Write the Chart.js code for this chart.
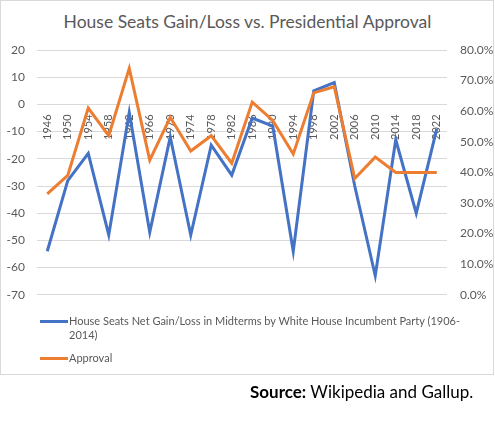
<!DOCTYPE html>
<html>
<head>
<meta charset="utf-8">
<script src="https://cdn.jsdelivr.net/npm/chart.js@4"></script>
<style>
  body { margin: 0; background: #fff; font-family: Lato, "Open Sans", sans-serif; overflow: hidden; }
  #frame { position: absolute; left: 0; top: 0; width: 492px; height: 373px; border: 1px solid #d9d9d9; }
  #wrap { position: absolute; left: 0; top: 0; width: 497px; height: 315px; }
  #title { position: absolute; left: 0; top: 11px; width: 495px; text-align: center; font-size: 17.5px; color: #595959; }
  #legend { position: absolute; left: 40px; top: 314px; font-size: 11px; color: #595959; }
  .item { position: relative; padding-left: 29px; width: 395px; line-height: 14px; margin-bottom: 9px; }
  .swatch { position: absolute; left: 0; top: 6px; width: 28px; height: 3px; }
  #source { position: absolute; left: 250px; top: 381px; font-size: 17px; color: #000; white-space: nowrap; }
</style>
</head>
<body>
<div id="frame"></div>
<div id="title">House Seats Gain/Loss vs. Presidential Approval</div>
<div id="wrap"><canvas id="myChart"></canvas></div>
<div id="legend"></div>
<div id="source"><b>Source:</b> Wikipedia and Gallup.</div>
<script>
var years = ["1946", "1950", "1954", "1958", "1962", "1966", "1970", "1974", "1978", "1982",
    "1986", "1990", "1994", "1998", "2002", "2006", "2010", "2014", "2018", "2022"];
var seats = [-54, -28, -18, -48, -3, -47, -12, -48, -15, -26,
    -5, -8, -54, 5, 8, -30, -63, -13, -40, -9];
var approval = [33, 39, 61, 52, 74, 44, 58, 47, 52, 43,
    63, 57, 46, 66, 68, 38, 45, 40, 40, 40];
var seatsLabel = "House Seats Net Gain/Loss in Midterms by White House Incumbent Party (1906-2014)";
var approvalLabel = "Approval";

var blue = "#4472c4";
var orange = "#ed7d31";
var grey = "#595959";

var ctx = document.getElementById("myChart");

var chart = new Chart(ctx, {
    type: "line",
    data: {
        labels: years,
        datasets: [{
            label: seatsLabel,
            data: seats,
            yAxisID: "y",
            borderColor: blue,
            borderWidth: 3,
            pointRadius: 0,
            tension: 0,
            order: 1
        }, {
            label: approvalLabel,
            data: approval,
            yAxisID: "y1",
            borderColor: orange,
            borderWidth: 3,
            pointRadius: 0,
            tension: 0,
            order: 0
        }]
    },
    options: {
        responsive: true,
        maintainAspectRatio: false,
        animation: false,
        layout: { padding: { top: 50, bottom: 0, left: 0, right: 0 } },
        plugins: {
            legend: { display: false },
            title: { display: false },
            tooltip: { enabled: false }
        },
        scales: {
            x: {
                type: "category",
                position: { y: 0 },
                offset: true,
                grid: { display: false },
                border: { display: false },
                ticks: {
                    autoSkip: false,
                    minRotation: 90,
                    maxRotation: 90,
                    padding: 2,
                    color: grey,
                    font: { family: "Lato", size: 11 }
                }
            },
            y: {
                position: "left",
                min: -70,
                max: 20,
                ticks: { stepSize: 10, padding: 12, color: grey, font: { family: "Lato", size: 12 } },
                grid: { color: "#d9d9d9", lineWidth: 1, drawTicks: false },
                border: { display: false },
                afterFit: function (scale) { scale.width = 37; }
            },
            y1: {
                position: "right",
                min: 0,
                max: 80,
                ticks: {
                    stepSize: 10,
                    padding: 13,
                    color: grey,
                    font: { family: "Lato", size: 12 },
                    callback: function (v) { return v.toFixed(1) + "%"; }
                },
                grid: { display: false, drawTicks: false },
                border: { display: false },
                afterFit: function (scale) { scale.width = 50; }
            }
        }
    }
});

// legend built from the datasets (allow a break after the hyphen like the original)
var legend = document.getElementById("legend");
chart.data.datasets.forEach(function (ds) {
    var item = document.createElement("div");
    item.className = "item";
    var sw = document.createElement("span");
    sw.className = "swatch";
    sw.style.background = ds.borderColor;
    item.appendChild(sw);
    item.appendChild(document.createTextNode(ds.label.replace(/-(?=\d)/g, "-\u200b")));
    legend.appendChild(item);
});
</script>
</body>
</html>
